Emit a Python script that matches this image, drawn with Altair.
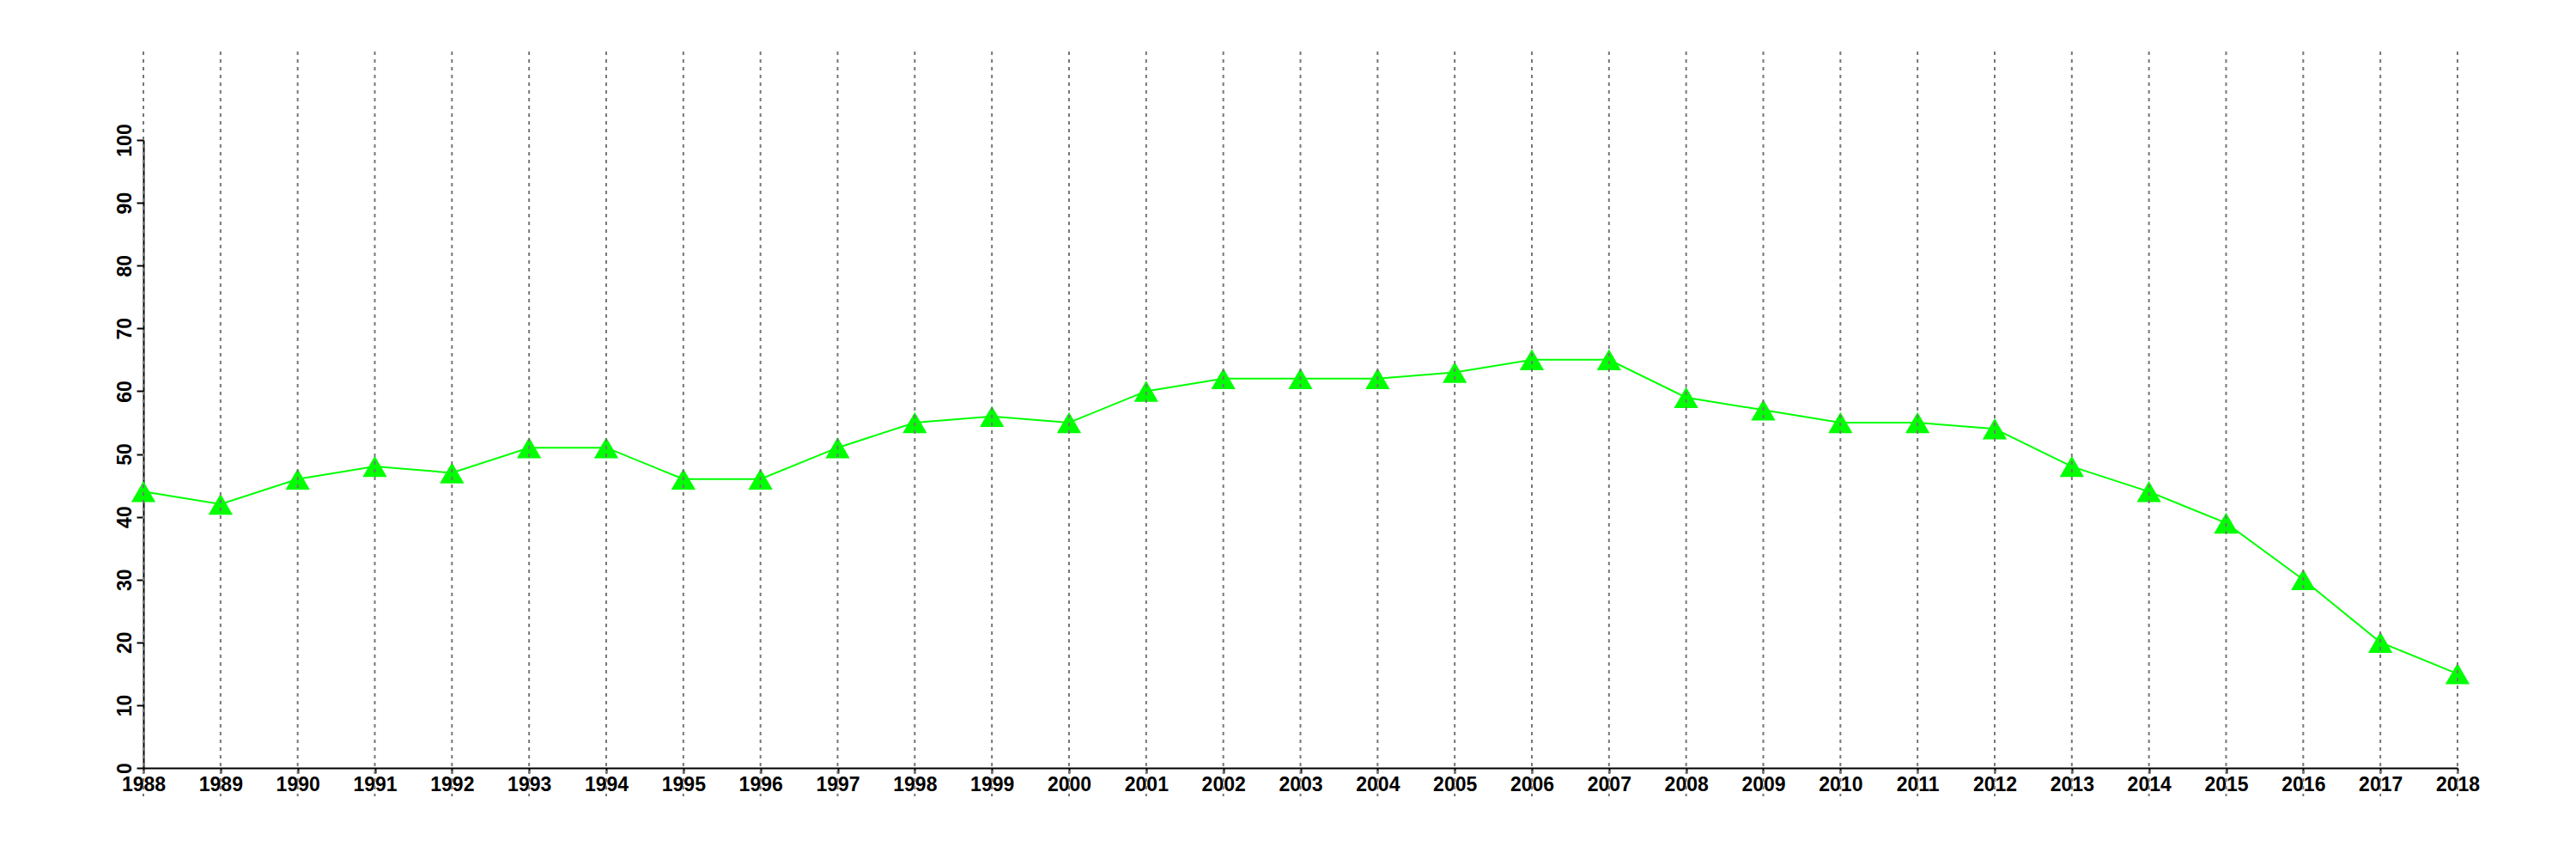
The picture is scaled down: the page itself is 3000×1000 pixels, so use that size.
import altair as alt
import pandas as pd

years = list(range(1988, 2019))
values = [44, 42, 46, 48, 47, 51, 51, 46, 46, 51, 55, 56, 55, 60, 62, 62, 62, 63, 65, 65,
          59, 57, 55, 55, 54, 48, 44, 39, 30, 20, 15]
y_ticks = [0, 10, 20, 30, 40, 50, 60, 70, 80, 90, 100]

df = pd.DataFrame({"year": years, "value": values})
grid_df = pd.DataFrame({"year": years})

FONT = "Liberation Sans"

xscale = alt.Scale(domain=[1988, 2018], nice=False, zero=False)
yscale = alt.Scale(domain=[0, 100], nice=False, zero=True)

xaxis = alt.Axis(values=years, format="d", title=None, grid=False,
                 labelFont=FONT, labelFontSize=23, labelFontWeight="bold",
                 labelColor="black", labelPadding=2, tickSize=6, tickWidth=2,
                 tickColor="black", domainColor="black", domainWidth=2,
                 labelOverlap=False, labelFlush=False)
yaxis = alt.Axis(values=y_ticks, title=None, grid=False,
                 labelFont=FONT, labelFontSize=23, labelFontWeight="bold",
                 labelColor="black", labelAngle=270, labelAlign="center",
                 labelBaseline="bottom", labelPadding=2, tickSize=8, tickWidth=2,
                 tickColor="black", domainColor="black", domainWidth=2,
                 labelOverlap=False, labelFlush=False)

base = alt.Chart(df)

line = base.mark_line(color="#00FF00", strokeWidth=2).encode(
    x=alt.X("year:Q", scale=xscale, axis=xaxis),
    y=alt.Y("value:Q", scale=yscale, axis=yaxis),
)

points = base.mark_point(shape="triangle-up", filled=True, color="#00FF00",
                         size=800, opacity=1).encode(
    x=alt.X("year:Q", scale=xscale, axis=xaxis),
    y=alt.Y("value:Q", scale=yscale, axis=yaxis),
)

grid = alt.Chart(grid_df).mark_rule(color="#777777", strokeWidth=2,
                                    strokeDash=[4, 5]).encode(
    x=alt.X("year:Q", scale=xscale, axis=xaxis),
    y=alt.Y(datum=114.1, scale=yscale, axis=yaxis),
    y2=alt.Y2(datum=-4.5),
)

chart = alt.layer(line, points, grid).properties(
    width=2695, height=731,
    background="white",
    autosize=alt.AutoSizeParams(type="none"),
    padding={"left": 159, "top": 155, "right": 100, "bottom": 60},
).configure_view(strokeOpacity=0, strokeWidth=0).configure_axis(grid=False)

chart.save("out.html", embed_options={"renderer": "svg", "actions": False})
